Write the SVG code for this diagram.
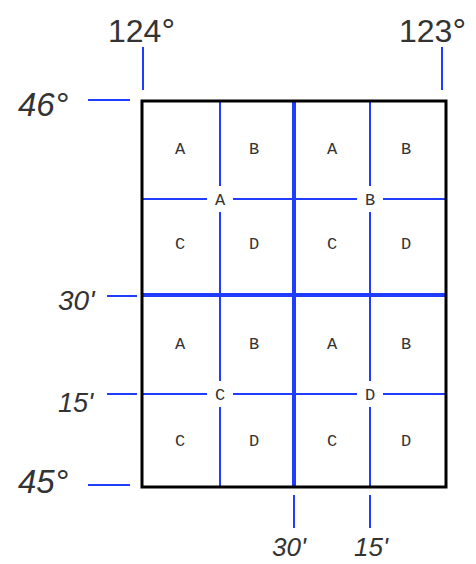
<svg xmlns="http://www.w3.org/2000/svg" width="476" height="564" viewBox="0 0 476 564">
<style>
.thin{stroke:#1f3cff;stroke-width:2;fill:none}
.thick{stroke:#1f3cff;stroke-width:4;fill:none}
.lbl{font-family:"Liberation Sans",Arial,sans-serif;fill:#333}
.it{font-style:italic}
.cell{font-family:"Liberation Mono","DejaVu Sans Mono",monospace;font-size:17px;fill:#333;text-anchor:middle}
</style>
<rect width="476" height="564" fill="#fff"/>
<g id="connectors">
<line class="thin" x1="143" y1="47" x2="143" y2="90"/>
<line class="thin" x1="442" y1="47" x2="442" y2="90"/>
<line class="thin" x1="88" y1="100" x2="130" y2="100"/>
<line class="thin" x1="107" y1="296" x2="137" y2="296"/>
<line class="thin" x1="107" y1="394" x2="137" y2="394"/>
<line class="thin" x1="88" y1="485" x2="130" y2="485"/>
<line class="thin" x1="294" y1="495" x2="294" y2="528"/>
<line class="thin" x1="370" y1="495" x2="370" y2="528"/>
<line class="thin" x1="220" y1="101" x2="220" y2="487"/>
<line class="thin" x1="370" y1="101" x2="370" y2="487"/>
<line class="thin" x1="142" y1="199" x2="446" y2="199"/>
<line class="thin" x1="142" y1="394" x2="446" y2="394"/>
<line class="thick" x1="294" y1="101" x2="294" y2="487"/>
<line class="thick" x1="142" y1="295" x2="446" y2="295"/>
</g>
<g id="frame">
<rect x="142" y="101" width="304" height="386" fill="none" stroke="#000" stroke-width="3"/>
</g>
<g id="labels">
<text class="lbl" x="108" y="42" font-size="32">124<tspan font-size="34">°</tspan></text>
<text class="lbl" x="399" y="42" font-size="32">123<tspan font-size="34">°</tspan></text>
<text class="lbl it" x="18" y="116" font-size="33">46<tspan font-size="34">°</tspan></text>
<text class="lbl it" x="58" y="310" font-size="28">30'</text>
<text class="lbl it" x="58" y="412" font-size="27">15'</text>
<text class="lbl it" x="18" y="493" font-size="33">45<tspan font-size="34">°</tspan></text>
<text class="lbl it" x="272" y="556" font-size="26">30'</text>
<text class="lbl it" x="354" y="556" font-size="26">15'</text>
</g>
<g id="cells">
<text class="cell" x="180" y="154">A</text>
<text class="cell" x="254" y="154">B</text>
<text class="cell" x="332" y="154">A</text>
<text class="cell" x="406" y="154">B</text>
<text class="cell" x="180" y="249">C</text>
<text class="cell" x="254" y="249">D</text>
<text class="cell" x="332" y="249">C</text>
<text class="cell" x="406" y="249">D</text>
<text class="cell" x="180" y="349">A</text>
<text class="cell" x="254" y="349">B</text>
<text class="cell" x="332" y="349">A</text>
<text class="cell" x="406" y="349">B</text>
<text class="cell" x="180" y="446">C</text>
<text class="cell" x="254" y="446">D</text>
<text class="cell" x="332" y="446">C</text>
<text class="cell" x="406" y="446">D</text>
</g>
<g id="centers">
<rect x="207" y="186" width="26" height="26" fill="#fff"/>
<text class="cell" x="220" y="205">A</text>
<rect x="357" y="186" width="26" height="26" fill="#fff"/>
<text class="cell" x="370" y="205">B</text>
<rect x="207" y="381" width="26" height="26" fill="#fff"/>
<text class="cell" x="220" y="400">C</text>
<rect x="357" y="381" width="26" height="26" fill="#fff"/>
<text class="cell" x="370" y="400">D</text>
</g>
</svg>
